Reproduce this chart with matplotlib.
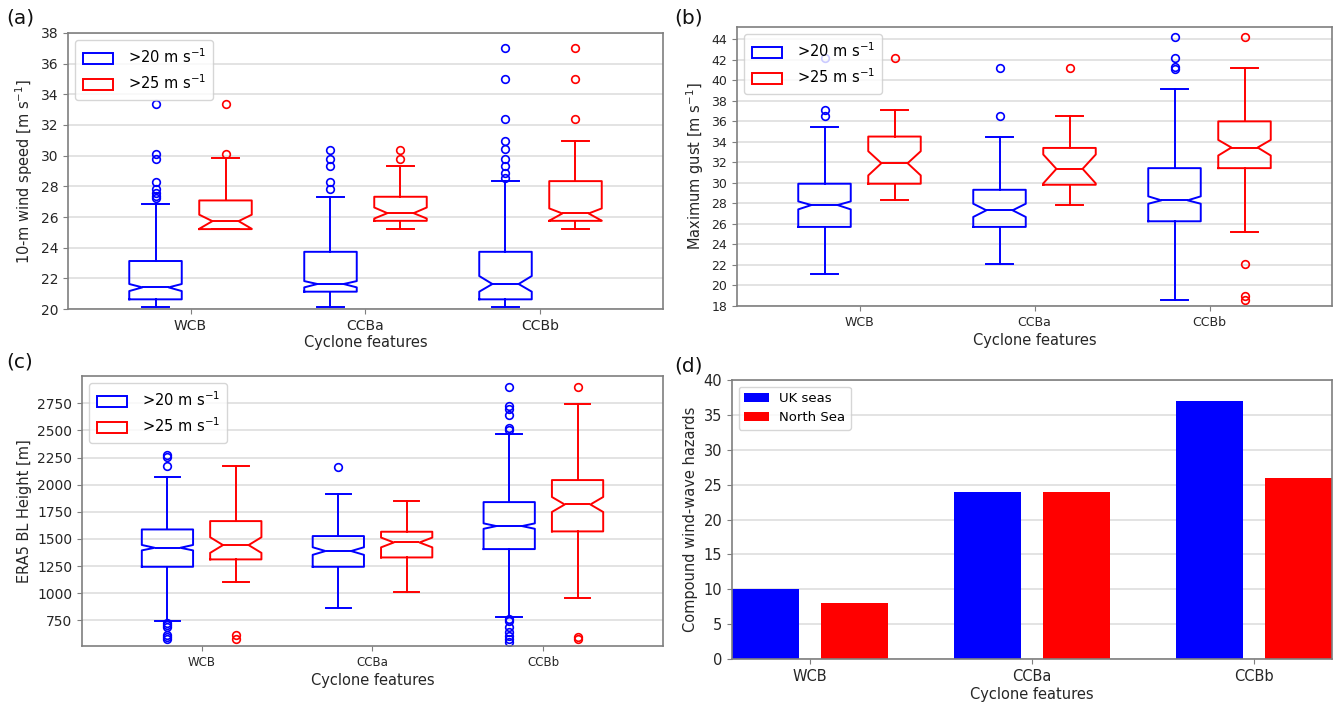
import numpy as np
import matplotlib
matplotlib.use("Agg")
import matplotlib.pyplot as plt
from matplotlib.patches import Patch

# ---------------- data ----------------
features = ["WCB", "CCBa", "CCBb"]
series_labels = [">20 m s$^{-1}$", ">25 m s$^{-1}$"]

# (a) 10-m wind speed box statistics
wind_20 = dict(
    q1=[20.63, 21.13, 20.63], med=[21.41, 21.63, 21.63], q3=[23.13, 23.73, 23.73],
    cilo=[21.17, 21.41, 21.13], cihi=[21.63, 21.82, 22.15],
    whislo=[20.15, 20.15, 20.15], whishi=[26.84, 27.32, 28.34],
    fliers=[[27.25, 27.4, 27.55, 27.8, 28.3, 29.8, 30.1, 33.4],
            [27.8, 28.3, 29.3, 29.8, 30.4],
            [28.55, 28.84, 29.34, 29.81, 30.42, 30.94, 32.4, 35.0, 37.0]])
wind_25 = dict(
    q1=[25.21, 25.75, 25.75], med=[25.73, 26.25, 26.23], q3=[27.08, 27.32, 28.34],
    cilo=[25.23, 25.9, 25.76], cihi=[26.15, 26.62, 26.56],
    whislo=[25.2, 25.21, 25.21], whishi=[29.86, 29.34, 30.94],
    fliers=[[30.1, 33.4], [29.8, 30.4], [32.4, 35.0, 37.0]])

# (b) maximum gust box statistics
gust_20 = dict(
    q1=[25.71, 25.71, 26.26], med=[27.84, 27.33, 28.3], q3=[29.92, 29.33, 31.44],
    cilo=[27.42, 26.68, 27.97], cihi=[28.2, 27.97, 28.69],
    whislo=[21.11, 22.11, 18.58], whishi=[35.49, 34.52, 39.11],
    fliers=[[36.5, 37.1, 42.2], [36.5, 41.2], [41.1, 41.3, 42.2, 44.2]])
gust_25 = dict(
    q1=[29.92, 29.82, 31.44], med=[31.92, 31.37, 33.45], q3=[34.52, 33.41, 36.0],
    cilo=[30.73, 29.95, 32.67], cihi=[33.09, 32.77, 34.19],
    whislo=[28.3, 27.84, 25.22], whishi=[37.14, 36.52, 41.22],
    fliers=[[42.2], [41.2], [18.6, 19.0, 22.1, 44.2]])

# (c) ERA5 BL height box statistics
blh_20 = dict(
    q1=[1244, 1244, 1407], med=[1419, 1389, 1619], q3=[1588, 1527, 1840],
    cilo=[1395, 1354, 1594], cihi=[1445, 1424, 1644],
    whislo=[747, 861, 778], whishi=[2073, 1914, 2466],
    fliers=[[578, 600, 615, 692, 707, 728, 2175, 2251, 2273],
            [2159],
            [554, 578, 609, 646, 692, 747, 759, 2505, 2525, 2640, 2700, 2730, 2902]])
blh_25 = dict(
    q1=[1312, 1330, 1570], med=[1444, 1468, 1818], q3=[1665, 1567, 2043],
    cilo=[1372, 1423, 1749], cihi=[1516, 1513, 1887],
    whislo=[1103, 1014, 953], whishi=[2175, 1849, 2740],
    fliers=[[575, 615], [], [575, 600, 2902]])

# (d) compound wind-wave hazards
bar_labels = ["UK seas", "North Sea"]
uk_seas = [10, 24, 37]
north_sea = [8, 24, 26]

# ---------------- style ----------------
BLUE = "#0000ff"
RED = "#ff0000"
TXT = "#262626"
SPINE = "#7f7f7f"
GRID = "#dedede"

fig = plt.figure(figsize=(13.33, 7.02), dpi=100)
W, H = 1333.0, 702.0


def axes_px(x0, y0, x1, y1):
    return fig.add_axes([x0 / W, 1 - y1 / H, (x1 - x0) / W, (y1 - y0) / H])


def style_axes(ax, xt_size, yt_size):
    for s in ax.spines.values():
        s.set_color(SPINE)
        s.set_linewidth(1.2)
    ax.grid(axis="y", color=GRID, lw=1.2)
    ax.set_axisbelow(True)
    ax.tick_params(axis="x", labelsize=xt_size, colors=SPINE, labelcolor=TXT)
    ax.tick_params(axis="y", labelsize=yt_size, colors=SPINE, labelcolor=TXT)


def stats_list(d):
    out = []
    for i in range(len(features)):
        out.append(dict(q1=d["q1"][i], med=d["med"][i], q3=d["q3"][i],
                        cilo=d["cilo"][i], cihi=d["cihi"][i],
                        whislo=d["whislo"][i], whishi=d["whishi"][i],
                        fliers=np.array(d["fliers"][i], dtype=float)))
    return out


def draw_boxes(ax, s20, s25):
    base = np.arange(1, len(features) + 1)
    for d, off, col in ((s20, -0.2, BLUE), (s25, 0.2, RED)):
        lp = dict(color=col, lw=1.4)
        ax.bxp(stats_list(d), positions=base + off, widths=0.3, shownotches=True,
               boxprops=lp, whiskerprops=lp, capprops=lp, medianprops=lp,
               flierprops=dict(marker="o", markerfacecolor="none",
                               markeredgecolor=col, markersize=5.5, mew=1.2),
               manage_ticks=False)
    ax.set_xlim(0.3, 3.7)
    ax.set_xticks(base)
    ax.set_xticklabels(features)
    handles = [Patch(facecolor="white", edgecolor=BLUE, lw=1.4),
               Patch(facecolor="white", edgecolor=RED, lw=1.4)]
    ax.legend(handles, series_labels, loc="upper left", fontsize=10.5,
              handlelength=2.1, handleheight=0.8, handletextpad=1.0,
              borderaxespad=0.5, borderpad=0.5, labelspacing=0.5)


# (a)
axa = axes_px(68, 33, 663, 309)
draw_boxes(axa, wind_20, wind_25)
axa.set_ylim(20, 38)
axa.set_yticks(np.arange(20, 39, 2))
style_axes(axa, 10, 10)
axa.set_ylabel("10-m wind speed [m s$^{-1}$]", fontsize=10.5, color=TXT)
axa.set_xlabel("Cyclone features", fontsize=10.5, color=TXT, labelpad=2)

# (b)
axb = axes_px(737, 27, 1332, 306)
draw_boxes(axb, gust_20, gust_25)
axb.set_ylim(18, 45.2)
axb.set_yticks(np.arange(18, 45, 2))
style_axes(axb, 9, 9)
axb.set_ylabel("Maximum gust [m s$^{-1}$]", fontsize=10.5, color=TXT)
axb.set_xlabel("Cyclone features", fontsize=10.5, color=TXT, labelpad=3)

# (c)
axc = axes_px(82, 376, 663, 646)
draw_boxes(axc, blh_20, blh_25)
axc.set_ylim(514, 3002)
axc.set_yticks(np.arange(750, 2751, 250))
style_axes(axc, 8.5, 10)
axc.set_ylabel("ERA5 BL Height [m]", fontsize=10.5, color=TXT)
axc.set_xlabel("Cyclone features", fontsize=10.5, color=TXT, labelpad=3)

# (d)
axd = axes_px(732, 380, 1332, 659)
x = np.arange(len(features))
axd.bar(x - 0.2, uk_seas, width=0.3, color=BLUE, label=bar_labels[0])
axd.bar(x + 0.2, north_sea, width=0.3, color=RED, label=bar_labels[1])
axd.set_xlim(-0.35, 2.35)
axd.set_ylim(0, 40)
axd.set_yticks(np.arange(0, 41, 5))
axd.set_xticks(x)
axd.set_xticklabels(features)
style_axes(axd, 10.5, 10.5)
axd.set_ylabel("Compound wind-wave hazards", fontsize=10.5, color=TXT)
axd.set_xlabel("Cyclone features", fontsize=10.5, color=TXT, labelpad=2)
axd.legend(loc="upper left", fontsize=9.5, handlelength=1.9, handletextpad=0.8,
           borderaxespad=0.5)

# panel labels
for lab, px, py in (("(a)", 6, 8), ("(b)", 674, 8), ("(c)", 6, 352), ("(d)", 674, 356)):
    fig.text(px / W, 1 - py / H, lab, fontsize=14.5, color="#111111",
             ha="left", va="top")

fig.savefig("out.png", dpi=100)
